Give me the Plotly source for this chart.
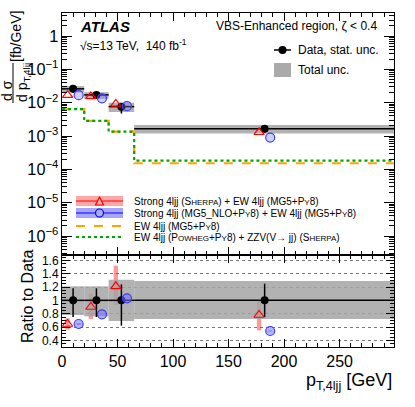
import plotly.graph_objects as go

# ---------------- data ----------------
bin_edges = [0, 20, 42, 65, 300]
data_xsec = [0.026, 0.0171, 0.0076, 0.00166]
data_stat_lo = [0.75, 0.75, 0.62, 0.75]
data_stat_hi = [1.18, 1.18, 1.24, 1.25]
total_unc_lo = [0.78, 0.76, 0.69, 0.72]
total_unc_hi = [1.21, 1.21, 1.31, 1.29]
sherpa_ratio = [0.645, 0.90, 1.21, 0.78]
sherpa_lo = [0.56, 0.72, 0.93, 0.55]
sherpa_hi = [0.73, 1.10, 1.52, 0.99]
mg5_ratio = [0.645, 0.79, 1.03, 0.54]
mg5_lo = [0.63, 0.78, 0.98, 0.53]
mg5_hi = [0.66, 0.80, 1.07, 0.55]
ew_mg5 = [0.0064, 0.00284, 0.00135, 0.000152]
ew_powheg = [0.0064, 0.00284, 0.00135, 0.000182]

FONT = "Liberation Sans, Arial, sans-serif"
W, H = 415, 407
L, R, T, B = 62, 394, 13, 347
SPLIT = 255

def px(x):
    return (x - L) / (R - L)

def py(y):
    return (B - y) / (B - T)

centers = [(bin_edges[i] + bin_edges[i + 1]) / 2 for i in range(len(data_xsec))]
halfw = [(bin_edges[i + 1] - bin_edges[i]) / 2 for i in range(len(data_xsec))]
off = 5
x_red = [c - off for c in centers]
x_blue = [c + off for c in centers]

sherpa_main = [r * d for r, d in zip(sherpa_ratio, data_xsec)]
mg5_main = [r * d for r, d in zip(mg5_ratio, data_xsec)]

fig = go.Figure()
GRAY = "rgba(165,165,165,0.85)"

# total uncertainty boxes (main + ratio)
for i in range(len(data_xsec)):
    x0, x1 = bin_edges[i], bin_edges[i + 1]
    lo, hi = data_xsec[i] * total_unc_lo[i], data_xsec[i] * total_unc_hi[i]
    fig.add_trace(go.Scatter(x=[x0, x1, x1, x0, x0], y=[lo, lo, hi, hi, lo], fill="toself",
                             fillcolor=GRAY, line=dict(width=0), mode="lines",
                             xaxis="x", yaxis="y", showlegend=False, hoverinfo="skip"))
    fig.add_trace(go.Scatter(x=[x0, x1, x1, x0, x0],
                             y=[total_unc_lo[i], total_unc_lo[i], total_unc_hi[i], total_unc_hi[i], total_unc_lo[i]],
                             fill="toself", fillcolor=GRAY, line=dict(width=0), mode="lines",
                             xaxis="x2", yaxis="y2", showlegend=False, hoverinfo="skip"))

# EW step lines
ew_x = bin_edges
fig.add_trace(go.Scatter(x=ew_x, y=ew_mg5 + [ew_mg5[-1]], mode="lines", line_shape="hv",
                         line=dict(color="#FFA500", width=2.2, dash="dash"),
                         xaxis="x", yaxis="y", showlegend=False))
fig.add_trace(go.Scatter(x=ew_x, y=ew_powheg + [ew_powheg[-1]], mode="lines", line_shape="hv",
                         line=dict(color="#00A800", width=2.2, dash="dot"),
                         xaxis="x", yaxis="y", showlegend=False))

# ratio bands for models
fig.add_trace(go.Bar(x=x_red, base=sherpa_lo, y=[h - l for h, l in zip(sherpa_hi, sherpa_lo)],
                     width=4, marker=dict(color="rgba(255,0,0,0.4)", line=dict(width=0)),
                     xaxis="x2", yaxis="y2", showlegend=False))
fig.add_trace(go.Bar(x=x_blue, base=mg5_lo, y=[h - l for h, l in zip(mg5_hi, mg5_lo)],
                     width=4, marker=dict(color="rgba(0,0,255,0.4)", line=dict(width=0)),
                     xaxis="x2", yaxis="y2", showlegend=False))

# data in main
fig.add_trace(go.Scatter(
    x=centers, y=data_xsec, mode="markers",
    marker=dict(color="black", size=8),
    error_x=dict(type="data", array=halfw, color="black", thickness=1.5, width=0),
    error_y=dict(type="data", symmetric=False,
                 array=[d * (h - 1) for d, h in zip(data_xsec, data_stat_hi)],
                 arrayminus=[d * (1 - l) for d, l in zip(data_xsec, data_stat_lo)],
                 color="black", thickness=1.5, width=0),
    xaxis="x", yaxis="y", showlegend=False))
# models in main
fig.add_trace(go.Scatter(x=x_red, y=sherpa_main, mode="markers",
                         marker=dict(symbol="triangle-up-open", color="red", size=9, line=dict(width=1.2)),
                         xaxis="x", yaxis="y", showlegend=False))
fig.add_trace(go.Scatter(x=x_blue, y=mg5_main, mode="markers",
                         marker=dict(symbol="circle", color="rgba(120,120,255,0.35)", size=9,
                                     line=dict(width=1.2, color="rgb(60,60,255)")),
                         xaxis="x", yaxis="y", showlegend=False))

# data in ratio
ones = [1.0] * len(data_xsec)
fig.add_trace(go.Scatter(
    x=centers, y=ones, mode="markers",
    marker=dict(color="black", size=8),
    error_x=dict(type="data", array=halfw, color="black", thickness=1.5, width=0),
    error_y=dict(type="data", symmetric=False,
                 array=[h - 1 for h in data_stat_hi], arrayminus=[1 - l for l in data_stat_lo],
                 color="black", thickness=1.5, width=0),
    xaxis="x2", yaxis="y2", showlegend=False))
fig.add_trace(go.Scatter(x=x_red, y=sherpa_ratio, mode="markers",
                         marker=dict(symbol="triangle-up-open", color="red", size=9, line=dict(width=1.2)),
                         xaxis="x2", yaxis="y2", showlegend=False))
fig.add_trace(go.Scatter(x=x_blue, y=mg5_ratio, mode="markers",
                         marker=dict(symbol="circle", color="rgba(120,120,255,0.55)", size=9,
                                     line=dict(width=1.2, color="rgb(60,60,255)")),
                         xaxis="x2", yaxis="y2", showlegend=False))

dom_split = py(SPLIT)
axis_common = dict(showline=True, linecolor="black", linewidth=1, mirror="allticks",
                   ticks="inside", tickcolor="black", zeroline=False, showgrid=False)

XMAX = 299
fig.update_layout(
    width=W, height=H, plot_bgcolor="white", paper_bgcolor="white",
    margin=dict(l=L, r=W - R, t=T, b=H - B),
    font=dict(family=FONT, color="black"),
    barmode="overlay",
    xaxis=dict(domain=[0, 1], anchor="y", range=[0, XMAX], dtick=50, ticklen=8,
               showticklabels=False, minor=dict(dtick=10, ticks="inside", ticklen=4, tickcolor="black"),
               **axis_common),
    yaxis=dict(domain=[dom_split, 1], anchor="x", type="log", range=[-6.57, 0.69], dtick=1,
               exponentformat="power", ticklen=10, tickfont=dict(size=13),
               minor=dict(ticks="inside", ticklen=5, dtick="D1", tickcolor="black"),
               **axis_common),
    xaxis2=dict(domain=[0, 1], anchor="y2", range=[0, XMAX], dtick=50, ticklen=8,
                tickfont=dict(size=16), minor=dict(dtick=10, ticks="inside", ticklen=4, tickcolor="black"),
                **axis_common),
    yaxis2=dict(domain=[0, dom_split], anchor="x2", range=[0.3, 1.68],
                tickvals=[0.4, 0.6, 0.8, 1.0, 1.2, 1.4, 1.6],
                ticktext=["0.4", "0.6", "0.8", "1", "1.2", "1.4", "1.6"],
                ticklen=8, tickfont=dict(size=12),
                minor=dict(dtick=0.05, ticks="inside", ticklen=4, tickcolor="black"),
                showline=True, linecolor="black", linewidth=1, mirror="allticks",
                ticks="inside", tickcolor="black", zeroline=False,
                showgrid=True, gridcolor="#777777", griddash="dot", gridwidth=1),
)

ann = []
def txt(x, y, s, size, xanchor="left", angle=0, yanchor="middle"):
    ann.append(dict(x=px(x), y=py(y), xref="paper", yref="paper", text=s, showarrow=False,
                    font=dict(size=size, family=FONT, color="black"), xanchor=xanchor,
                    yanchor=yanchor, textangle=angle))

txt(78, 26, "<b><i>ATLAS</i></b>", 15)
txt(78, 45, "√s=13 TeV,  140 fb<sup>-1</sup>", 12)
txt(379, 26, "VBS-Enhanced region, ζ < 0.4", 12, xanchor="right")
txt(296, 50, "Data, stat. unc.", 12)
txt(296, 70, "Total unc.", 12)

sm = "<span style='font-size:8px'>"
es = "</span>"
leg_texts = [
    f"Strong 4ljj (S{sm}HERPA{es}) + EW 4ljj (MG5+P{sm}Y{es}8)",
    f"Strong 4ljj (MG5_NLO+P{sm}Y{es}8) + EW 4ljj (MG5+P{sm}Y{es}8)",
    f"EW 4ljj (MG5+P{sm}Y{es}8)",
    f"EW 4ljj (P{sm}OWHEG{es}+P{sm}Y{es}8) + ZZV(V→ jj) (S{sm}HERPA{es})",
]
leg_y = [201, 213, 226, 237]
for s, yy in zip(leg_texts, leg_y):
    txt(132, yy, s, 10)

# y titles
txt(7, 91, "d σ", 14, xanchor="center", angle=-90)
txt(23, 83, "d p<sub>T,4ljj</sub>", 14, xanchor="center", angle=-90)
txt(16, 37, "[fb/GeV]", 14, xanchor="center", angle=-90)
txt(27, 297, "Ratio to Data", 16, xanchor="center", angle=-90)
txt(394, 381, "p<sub>T,4ljj</sub> [GeV]", 18, xanchor="right")

fig.update_layout(annotations=ann)

shapes = []
def shp(**k):
    k.setdefault("xref", "paper")
    k.setdefault("yref", "paper")
    shapes.append(k)

# fraction bar
shp(type="line", x0=px(13), x1=px(13), y0=py(63), y1=py(103), line=dict(color="black", width=1))
# top legend
shp(type="line", x0=px(274), x1=px(291), y0=py(50), y1=py(50), line=dict(color="black", width=1.5))
shp(type="circle", x0=px(278.5), x1=px(286.5), y0=py(46), y1=py(54), fillcolor="black", line=dict(width=0))
shp(type="rect", x0=px(274), x1=px(291), y0=py(63), y1=py(77), fillcolor="#aaaaaa", line=dict(width=0))
# bottom legend
shp(type="rect", x0=px(76), x1=px(123), y0=py(196), y1=py(206), fillcolor="rgba(255,0,0,0.35)", line=dict(width=0))
shp(type="line", x0=px(76), x1=px(123), y0=py(201), y1=py(201), line=dict(color="red", width=1))
shp(type="path", path=f"M {px(95.5)} {py(205)} L {px(103.5)} {py(205)} L {px(99.5)} {py(197)} Z",
    fillcolor="rgba(255,170,170,1)", line=dict(color="red", width=1.2))
shp(type="rect", x0=px(76), x1=px(123), y0=py(208), y1=py(218), fillcolor="rgba(0,0,255,0.35)", line=dict(width=0))
shp(type="line", x0=px(76), x1=px(123), y0=py(213), y1=py(213), line=dict(color="blue", width=1))
shp(type="circle", x0=px(95.5), x1=px(103.5), y0=py(209), y1=py(217),
    fillcolor="rgba(170,170,255,1)", line=dict(color="blue", width=1.2))
shp(type="line", x0=px(76), x1=px(123), y0=py(226), y1=py(226), line=dict(color="#FFA500", width=2.2, dash="dash"))
shp(type="line", x0=px(76), x1=px(123), y0=py(237), y1=py(237), line=dict(color="#00A800", width=2.2, dash="dot"))
fig.update_layout(shapes=shapes)

fig.write_html("out.html", config={"displayModeBar": False},
               post_script="document.body.style.margin='0';document.body.style.overflow='hidden';")
